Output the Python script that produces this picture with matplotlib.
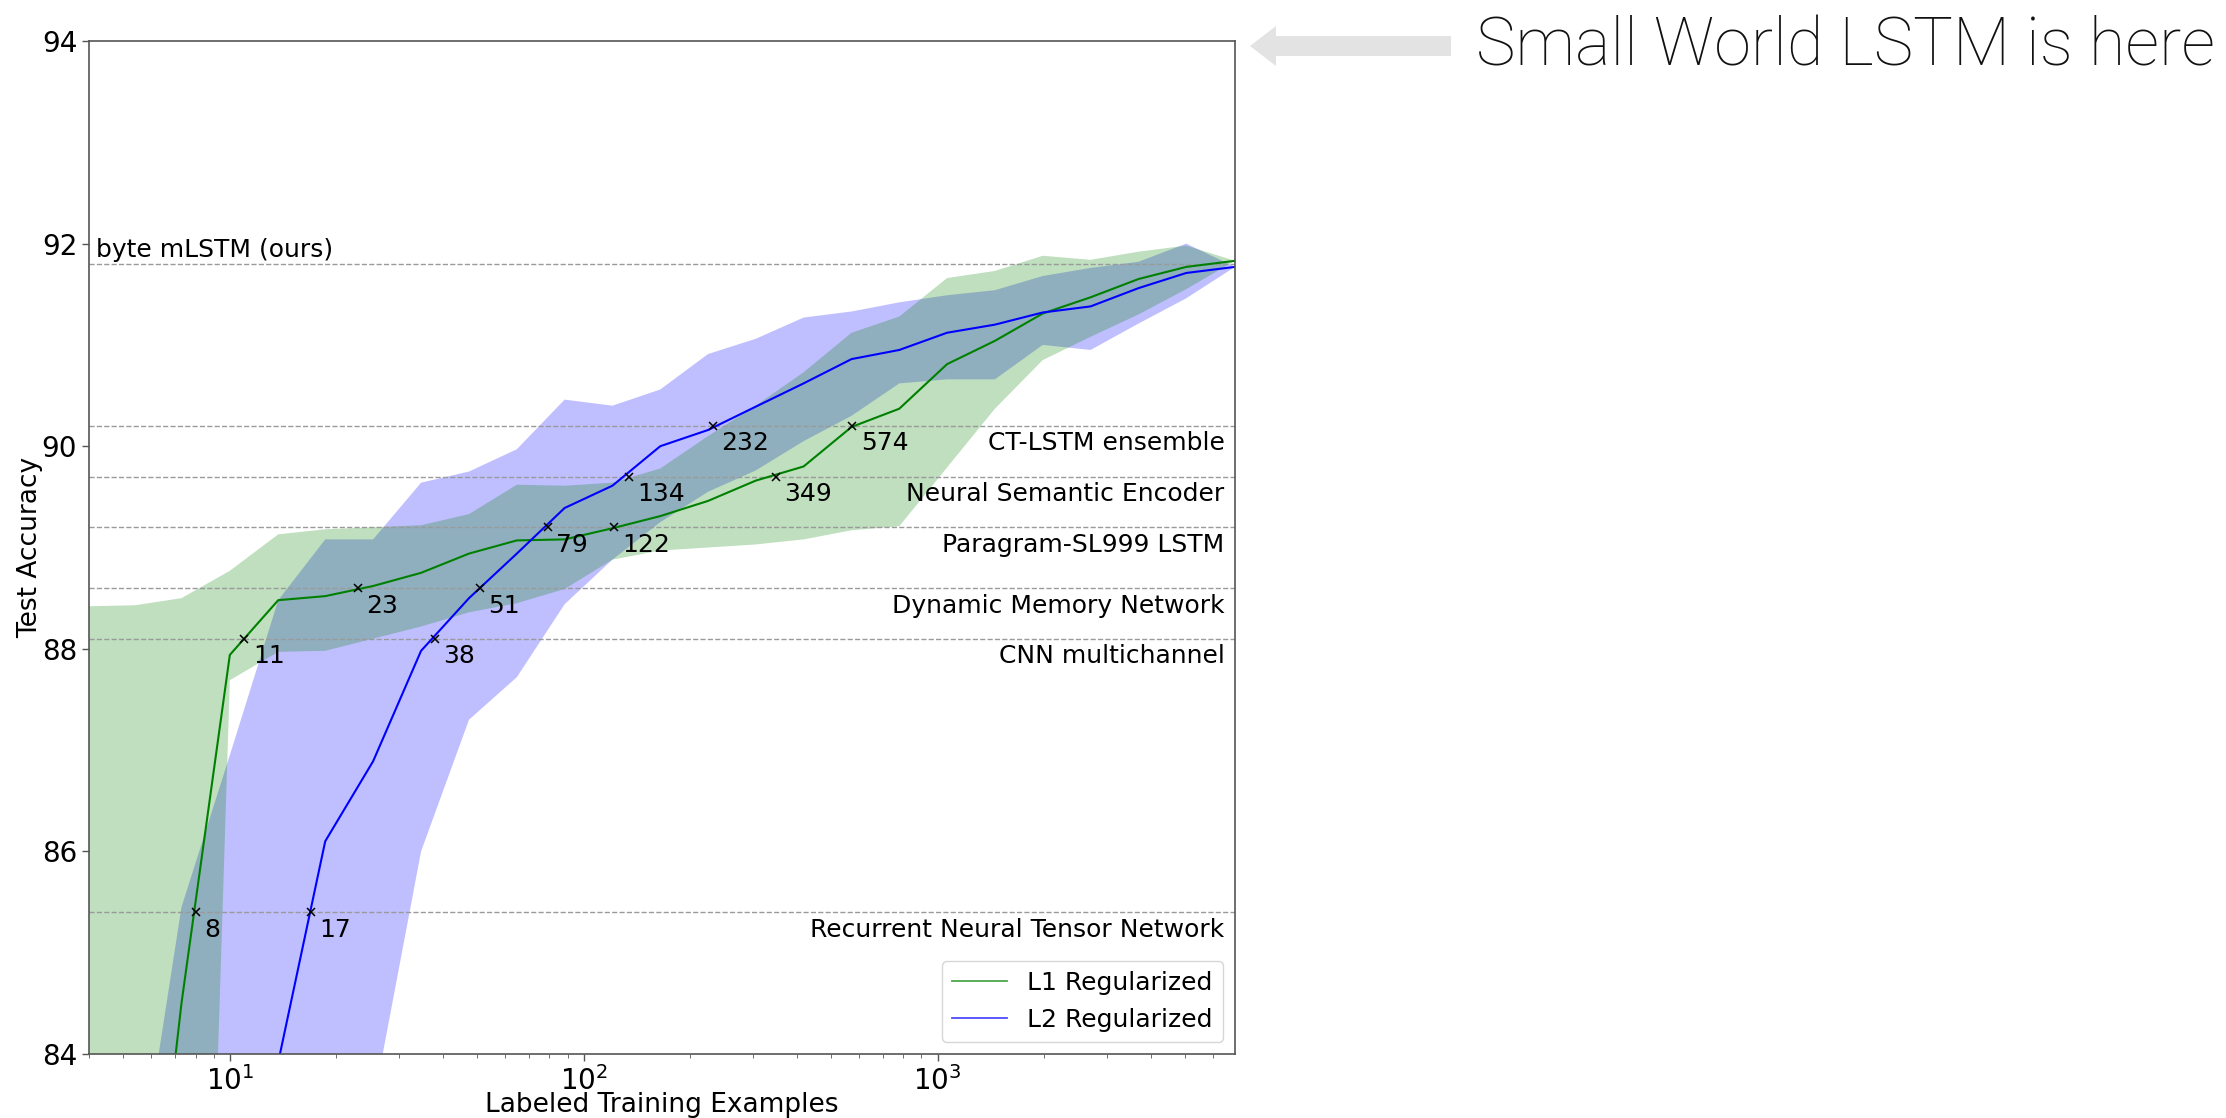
import matplotlib
matplotlib.use("Agg")
import matplotlib.pyplot as plt
from matplotlib.patches import Polygon

W, H, DPI = 2226, 1118, 100

# labeled training examples at which the classifiers were evaluated
n_examples = [4.0, 5.4, 7.3, 10, 13.7, 18.6, 25.4, 34.7, 47.4, 64.7, 88.3, 120.5,
              164.5, 224.5, 306, 418, 571, 779, 1063, 1451, 1981, 2704, 3691, 5038, 6920]

# L1 regularized logistic regression: mean and spread over runs
l1_mean = [76.0, 80.5, 84.5, 87.94, 88.48, 88.52, 88.62, 88.75, 88.94, 89.07, 89.08, 89.19,
           89.31, 89.46, 89.66, 89.80, 90.19, 90.37, 90.81, 91.04, 91.31, 91.47, 91.65, 91.77, 91.83]
l1_upper = [88.42, 88.43, 88.50, 88.77, 89.13, 89.18, 89.20, 89.22, 89.33, 89.62, 89.61, 89.64,
            89.78, 90.10, 90.40, 90.73, 91.12, 91.28, 91.66, 91.73, 91.88, 91.84, 91.92, 91.98, 91.83]
l1_lower = [68.0, 70.5, 72.6, 87.69, 87.97, 87.98, 88.10, 88.22, 88.36, 88.45, 88.59, 88.88,
            88.97, 89.00, 89.03, 89.08, 89.17, 89.21, 89.79, 90.37, 90.85, 91.08, 91.30, 91.55, 91.83]

# L2 regularized logistic regression
l2_mean = [72.0, 74.0, 77.0, 80.5, 83.92, 86.10, 86.89, 87.98, 88.50, 88.94, 89.39, 89.61,
           90.00, 90.16, 90.39, 90.62, 90.86, 90.95, 91.12, 91.20, 91.32, 91.38, 91.56, 91.71, 91.77]
l2_upper = [80.0, 82.5, 85.45, 86.95, 88.48, 89.08, 89.08, 89.64, 89.75, 89.97, 90.46, 90.40,
            90.56, 90.91, 91.06, 91.27, 91.33, 91.42, 91.49, 91.54, 91.68, 91.76, 91.82, 92.00, 91.77]
l2_lower = [66.0, 68.0, 70.0, 72.0, 76.0, 80.0, 83.5, 86.0, 87.3, 87.72, 88.44, 88.88,
            89.25, 89.55, 89.76, 90.05, 90.30, 90.62, 90.66, 90.66, 91.00, 90.95, 91.21, 91.46, 91.77]

# published SST binary results used as reference lines
baseline_names = ["byte mLSTM (ours)", "CT-LSTM ensemble", "Neural Semantic Encoder",
                  "Paragram-SL999 LSTM", "Dynamic Memory Network", "CNN multichannel",
                  "Recurrent Neural Tensor Network"]
baseline_acc = [91.8, 90.2, 89.7, 89.2, 88.6, 88.1, 85.4]

# examples needed to match each baseline (RNTN ... CT-LSTM)
match_acc = [85.4, 88.1, 88.6, 89.2, 89.7, 90.2]
l1_match = [8, 11, 23, 122, 349, 574]
l2_match = [17, 38, 51, 79, 134, 232]

y_ticks = [84, 86, 88, 90, 92, 94]

fig = plt.figure(figsize=(W / DPI, H / DPI), dpi=DPI)
ax = fig.add_axes([89 / W, 1 - 1054 / H, (1235 - 89) / W, (1054 - 41) / H])

ax.fill_between(n_examples, l2_lower, l2_upper, color="b", alpha=0.25, lw=0)
ax.fill_between(n_examples, l1_lower, l1_upper, color="g", alpha=0.25, lw=0)
l1_line, = ax.plot(n_examples, l1_mean, color="g", lw=1.5)
l2_line, = ax.plot(n_examples, l2_mean, color="b", lw=1.5)

for acc in baseline_acc:
    ax.axhline(acc, color="#9a9a9a", ls="--", lw=1.0, zorder=1.5)

for counts in (l1_match, l2_match):
    ax.plot(counts, match_acc, ls="none", marker="x", color="k", ms=6, mew=1.1, zorder=4)
    for n, acc in zip(counts, match_acc):
        ax.annotate(str(n), (n, acc), xytext=(6, -4), textcoords="offset points",
                    ha="left", va="top", fontsize=18)

ytrans = ax.get_yaxis_transform()
ax.annotate(baseline_names[0], (0.006, baseline_acc[0]), xycoords=ytrans,
            xytext=(0, 1), textcoords="offset points", ha="left", va="bottom", fontsize=18)
for name, acc in zip(baseline_names[1:], baseline_acc[1:]):
    ax.annotate(name, (0.991, acc), xycoords=ytrans, xytext=(0, -4),
                textcoords="offset points", ha="right", va="top", fontsize=18)

ax.set_xscale("log")
ax.set_xlim(n_examples[0], n_examples[-1])
ax.set_ylim(84, 94)
ax.set_yticks(y_ticks)
ax.tick_params(labelsize=20, length=5, width=1, color="#555555")
ax.tick_params(which="minor", length=3, color="#555555")
ax.set_xlabel("Labeled Training Examples", fontsize=19, labelpad=-3)
ax.set_ylabel("Test Accuracy", fontsize=19, labelpad=-1)
for sp in ax.spines.values():
    sp.set_color("#555555")
    sp.set_linewidth(1.2)

leg = ax.legend([l1_line, l2_line], ["L1 Regularized", "L2 Regularized"],
                loc="lower right", fontsize=18, handlelength=2.2, borderaxespad=0.5)
for h in leg.legend_handles:
    h.set_alpha(0.7)
    h.set_linewidth(1.3)

# gray pointer and caption to the right of the plot
tip_x, tip_y = 1250, 46
arrow_px = [(tip_x, tip_y), (tip_x + 26, tip_y - 20), (tip_x + 26, tip_y - 10),
            (1451, tip_y - 10), (1451, tip_y + 10), (tip_x + 26, tip_y + 10),
            (tip_x + 26, tip_y + 20)]
fig.patches.append(Polygon([(x / W, 1 - y / H) for x, y in arrow_px], closed=True,
                           transform=fig.transFigure, facecolor="#e3e3e3",
                           edgecolor="none"))
fig.text(1476 / W, 1 - 66 / H, "Small World LSTM is here", fontsize=48,
         family=["Roboto", "DejaVu Sans"], fontweight="light", color="#111111",
         ha="left", va="baseline")

fig.savefig("out.png", dpi=DPI)
